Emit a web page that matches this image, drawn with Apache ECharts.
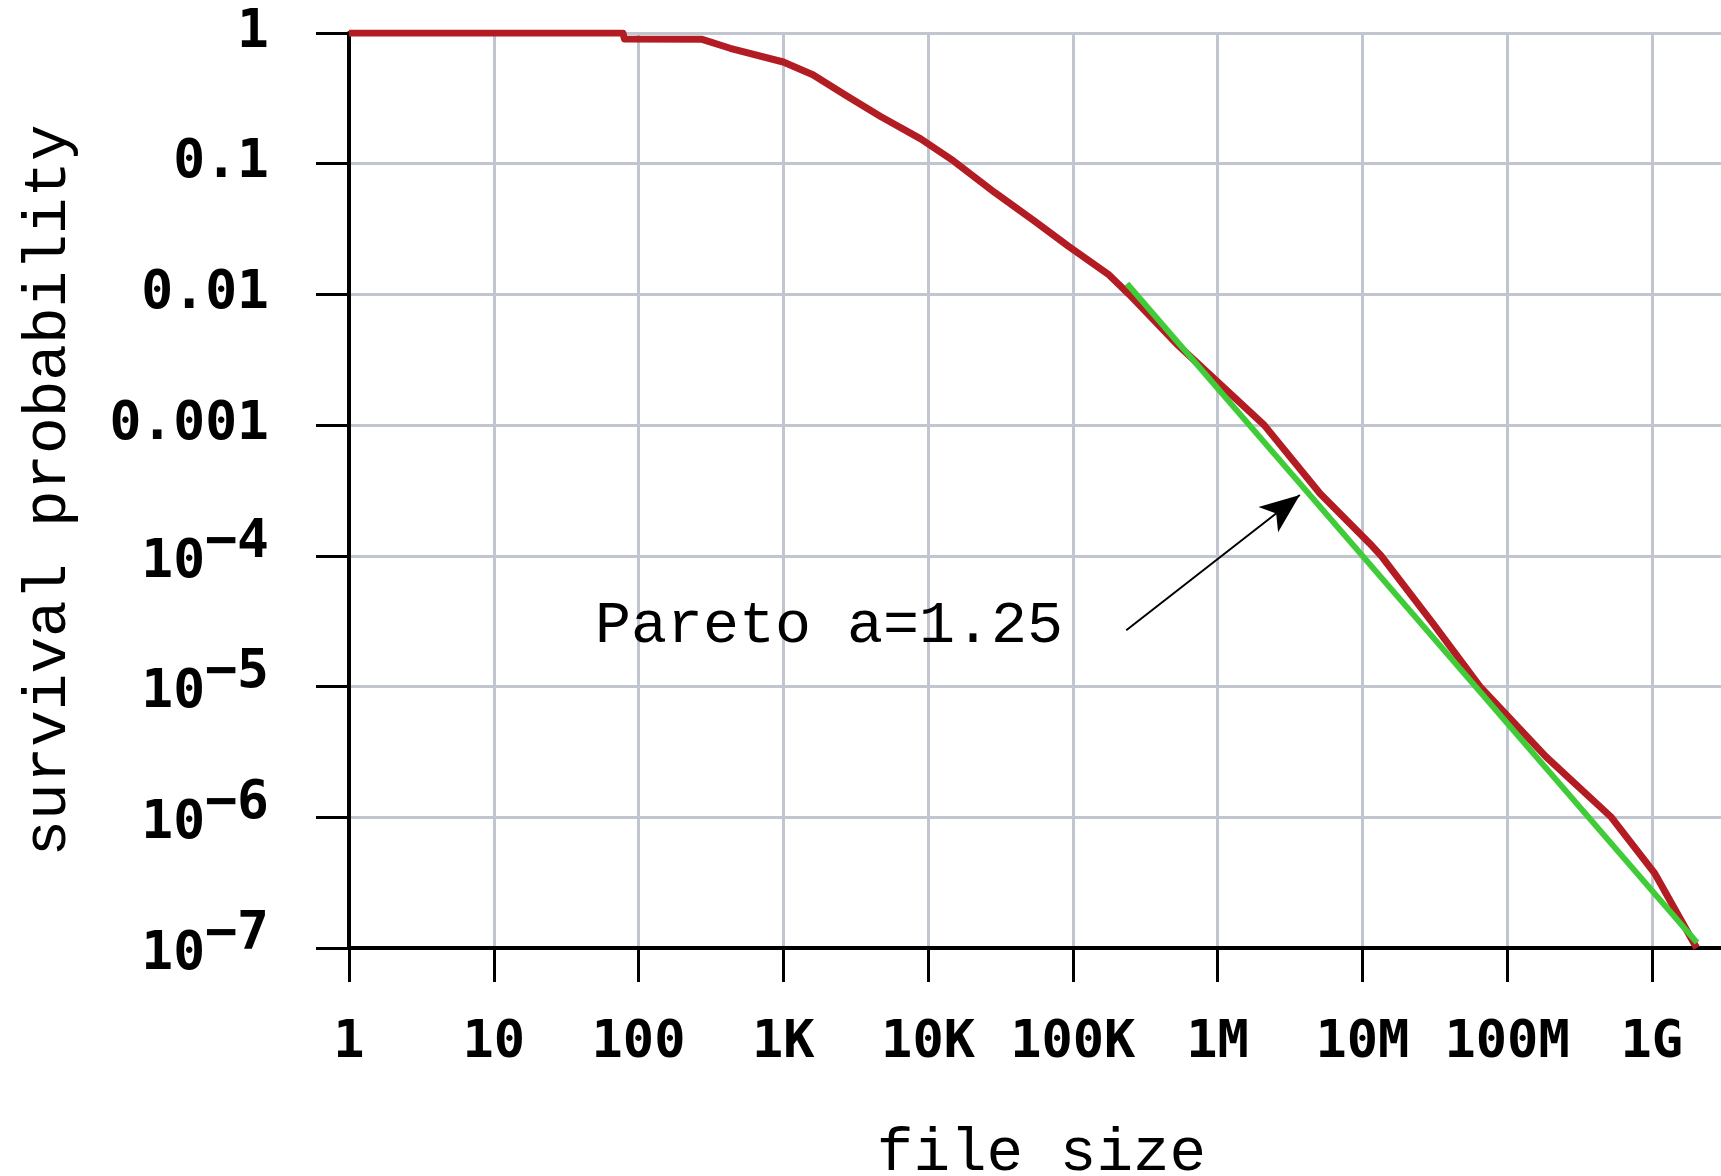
<!DOCTYPE html>
<html>
<head>
<meta charset="utf-8">
<script src="https://cdn.jsdelivr.net/npm/echarts@6/dist/echarts.min.js"></script>
<style>
html,body{margin:0;padding:0;background:#fff;}
#chart{width:1721px;height:1176px;}
</style>
</head>
<body>
<div id="chart"></div>
<script>
// Empirical survival curve (file size, survival probability)
const fileSizes = [1, 78, 80, 275, 430, 1000, 1600, 2750, 4700, 8900, 15000, 29000, 55000, 93000, 178000, 245000, 519000, 2.1e6, 5.1e6, 1.12e7, 1.35e7, 3.1e7, 6.5e7, 1.86e8, 5.25e8, 1.05e9, 2.04e9];
const survival = [1, 1, 0.9, 0.895, 0.764, 0.6, 0.48, 0.33, 0.23, 0.155, 0.105, 0.06, 0.036, 0.0234, 0.0141, 0.01, 0.0042, 0.001, 3.0e-4, 1.25e-4, 1.0e-4, 3.0e-5, 1.0e-5, 2.9e-6, 1.0e-6, 3.7e-7, 1.0e-7];
// Pareto fit line
const paretoX = [2.37e5, 2.05e9];
const paretoY = [0.0121, 1.1e-7];
// Tick labels
const xTickLabels = ['1', '10', '100', '1K', '10K', '100K', '1M', '10M', '100M', '1G'];
const yTickLabels = ['1', '0.1', '0.01', '0.001', '10^−4', '10^−5', '10^−6', '10^−7'];
// Annotation
const annotationText = 'Pareto a=1.25';
const annotationAt = [50, 2.9e-5];
const arrowFrom = [2.34e5, 2.7e-5];
const arrowTo = [3.7e6, 2.92e-4];

const zip = (a, b) => a.map((v, i) => [v, b[i]]);
const monoBold = 'DejaVu Sans Mono';
const monoThin = 'Liberation Mono';
const isPow = v => Math.abs(Math.log10(v) - Math.round(Math.log10(v))) < 1e-6;

const chart = echarts.init(document.getElementById('chart'), null, {renderer: 'canvas'});
chart.setOption({
  animation: false,
  backgroundColor: '#ffffff',
  grid: {left: 349, top: 33, width: 1447, bottom: 228, outerBoundsMode: 'none', containLabel: false},
  xAxis: {
    type: 'log', logBase: 10, min: 1, max: 9.9e9,
    name: 'file size', nameLocation: 'middle', nameGap: 175,
    nameTextStyle: {fontFamily: monoThin, fontSize: 61, color: '#000', padding: [0, 62, 0, 0]},
    axisLine: {lineStyle: {color: '#000', width: 4}},
    axisTick: {show: true, length: 34, lineStyle: {color: '#000', width: 3}},
    splitLine: {show: true, lineStyle: {color: '#c0c5cf', width: 3}},
    axisLabel: {
      margin: 69, fontFamily: monoBold, fontWeight: 'bold', fontSize: 52, color: '#000',
      showMaxLabel: true, showMinLabel: true, hideOverlap: false,
      formatter: v => { if (!isPow(v)) return ''; const i = Math.round(Math.log10(v)); return xTickLabels[i] !== undefined ? xTickLabels[i] : ''; }
    }
  },
  yAxis: {
    type: 'log', logBase: 10, min: 1e-7, max: 1,
    name: 'survival probability', nameLocation: 'middle', nameGap: 270,
    nameTextStyle: {fontFamily: monoThin, fontSize: 61, color: '#000'},
    axisLine: {lineStyle: {color: '#000', width: 4}},
    axisTick: {show: true, length: 33, lineStyle: {color: '#000', width: 3}},
    splitLine: {show: true, lineStyle: {color: '#c0c5cf', width: 3}},
    axisLabel: {
      margin: 80, color: '#000',
      formatter: v => {
        const i = Math.round(-Math.log10(v));
        const s = yTickLabels[i];
        if (s === undefined) return '';
        if (s.indexOf('^') >= 0) { const p = s.split('^'); return '{bs|' + p[0] + '}{sup|' + p[1] + '}'; }
        return '{b|' + s + '}';
      },
      rich: {
        b: {fontFamily: monoBold, fontWeight: 'bold', fontSize: 53, color: '#000'},
        bs: {fontFamily: monoBold, fontWeight: 'bold', fontSize: 53, color: '#000', padding: [14, 0, 0, 0]},
        sup: {fontFamily: monoBold, fontWeight: 'bold', fontSize: 53, color: '#000', padding: [14, 0, 40, 0]}
      }
    }
  },
  series: [
    {
      type: 'line', name: 'empirical', data: zip(fileSizes, survival),
      showSymbol: false, symbol: 'none', smooth: false,
      lineStyle: {color: '#b21c22', width: 7, join: 'round'}, z: 3,
      markPoint: {
        silent: true, symbol: 'circle', symbolSize: 0,
        data: [{coord: annotationAt, label: {show: true, position: 'right', distance: 0, formatter: annotationText, fontFamily: monoThin, fontSize: 60, color: '#000'}}]
      },
      markLine: {
        silent: true, symbol: ['none', 'arrow'], symbolSize: [24, 40],
        lineStyle: {color: '#000', width: 2, type: 'solid'},
        label: {show: false},
        data: [[{coord: arrowFrom}, {coord: arrowTo}]]
      }
    },
    {
      type: 'line', name: 'pareto', data: zip(paretoX, paretoY),
      showSymbol: false, symbol: 'none',
      lineStyle: {color: '#3fcc38', width: 6}, z: 4
    }
  ]
});
</script>
</body>
</html>
